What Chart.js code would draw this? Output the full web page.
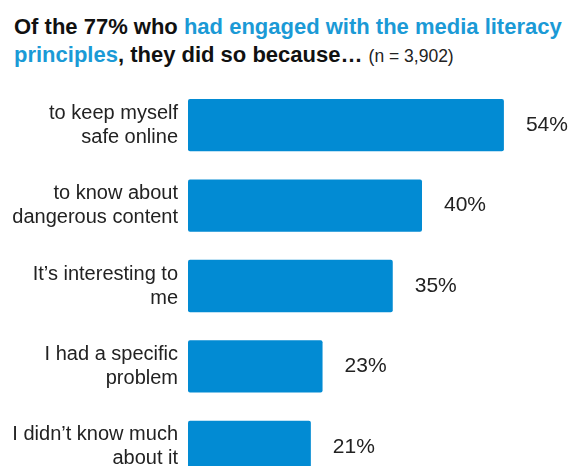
<!DOCTYPE html>
<html>
<head>
<meta charset="utf-8">
<script src="https://cdn.jsdelivr.net/npm/chart.js@4"></script>
<style>
  html, body { margin: 0; padding: 0; background: #fff; overflow: hidden; }
  body { width: 569px; height: 466px; position: relative; font-family: "Liberation Sans", Arial, sans-serif; }
  #titulo {
    position: absolute; left: 14px; top: 13px; width: 555px;
    font-size: 22px; font-weight: bold; line-height: 28px; color: #111;
  }
  #titulo .azul { color: #1b9ad6; }
  #titulo .n { font-weight: normal; font-size: 17.5px; color: #222; }
  #caixa { position: absolute; left: 0; top: 0; width: 569px; height: 521px; }
</style>
</head>
<body>
<div id="titulo">Of the 77% who <span class="azul">had engaged with the media literacy principles</span>, they did so because&hellip; <span class="n">(n = 3,902)</span></div>
<div id="caixa"><canvas id="graficoBarras"></canvas></div>
<script>
var motivos = [
    ['to keep myself', 'safe online'],
    ['to know about', 'dangerous content'],
    ['It\u2019s interesting to', 'me'],
    ['I had a specific', 'problem'],
    ['I didn\u2019t know much', 'about it']
];
var percentuais = [54, 40, 35, 23, 21];

// escreve o valor ao lado de cada barra
var rotulosValor = {
    id: 'rotulosValor',
    afterDatasetsDraw: function(chart) {
        var ctx = chart.ctx;
        var meta = chart.getDatasetMeta(0);
        ctx.save();
        ctx.font = '21px "Liberation Sans", Arial, sans-serif';
        ctx.fillStyle = '#222';
        ctx.textBaseline = 'middle';
        meta.data.forEach(function(barra, i) {
            ctx.fillText(percentuais[i] + '%', barra.x + 22, barra.y);
        });
        ctx.restore();
    }
};

var contexto = document.getElementById('graficoBarras').getContext('2d');
new Chart(contexto, {
    type: 'bar',
    data: {
        labels: motivos,
        datasets: [{
            data: percentuais,
            backgroundColor: '#028bd3',
            borderRadius: 2,
            borderSkipped: false,
            barPercentage: 0.65,
            categoryPercentage: 1
        }]
    },
    options: {
        indexAxis: 'y',
        responsive: true,
        maintainAspectRatio: false,
        animation: false,
        layout: { padding: { top: 85, right: 30, bottom: 3, left: 0 } },
        plugins: {
            legend: { display: false },
            tooltip: { enabled: false }
        },
        scales: {
            x: { display: false, min: 0, max: 60 },
            y: {
                grid: { display: false, drawTicks: false },
                border: { display: false },
                afterFit: function(escala) { escala.width = 188; },
                ticks: {
                    padding: 10,
                    color: '#222',
                    font: { family: '"Liberation Sans", Arial, sans-serif', size: 20, lineHeight: 1.2 }
                }
            }
        }
    },
    plugins: [rotulosValor]
});
</script>
</body>
</html>
